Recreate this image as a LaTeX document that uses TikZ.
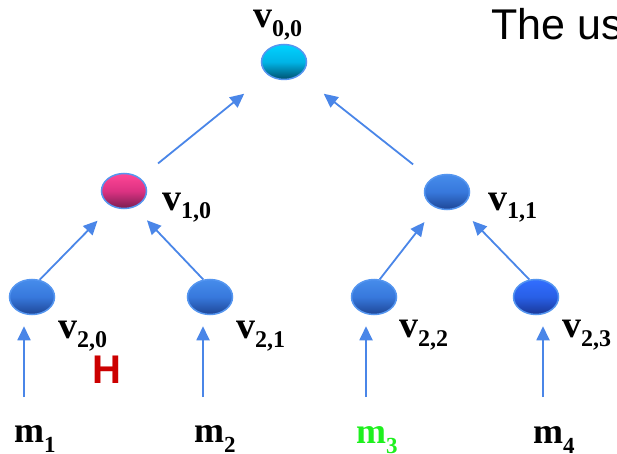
\documentclass[tikz,border=0pt]{standalone}
\usepackage{fontspec}
\setmainfont{Liberation Serif}
\newfontfamily\arialf{Liberation Sans}
\usetikzlibrary{arrows.meta,shapes.geometric}
\definecolor{arrowblue}{RGB}{74,134,232}
\definecolor{nodeborder}{RGB}{85,150,240}
\definecolor{hred}{RGB}{204,0,0}
\definecolor{mgreen}{RGB}{30,240,30}
\newcommand\vlabtxt[2]{#1\raisebox{-9pt}{\fontsize{24}{24}\selectfont #2}}
\newcommand\mlabtxt[2]{#1\raisebox{-10pt}{\fontsize{23}{23}\selectfont #2}}
\begin{document}
\begin{tikzpicture}[x=1pt,y=-1pt,
  vnode/.style={ellipse, draw=nodeborder, line width=1.5pt, minimum width=45pt, minimum height=35pt, inner sep=0pt},
  cyanshade/.style={top color={rgb,255:red,0;green,210;blue,255}, bottom color={rgb,255:red,0;green,80;blue,110}, middle color={rgb,255:red,0;green,180;blue,230}},
  pinkshade/.style={top color={rgb,255:red,255;green,70;blue,150}, bottom color={rgb,255:red,120;green,30;blue,80}, middle color={rgb,255:red,220;green,50;blue,130}},
  blueshade/.style={top color={rgb,255:red,70;green,140;blue,235}, bottom color={rgb,255:red,30;green,70;blue,150}, middle color={rgb,255:red,55;green,120;blue,220}},
  brightshade/.style={top color={rgb,255:red,50;green,110;blue,255}, bottom color={rgb,255:red,25;green,55;blue,150}, middle color={rgb,255:red,40;green,95;blue,230}},
  vlab/.style={anchor=base west, inner sep=0pt, font=\fontsize{38}{40}\selectfont\bfseries},
  mlab/.style={anchor=base west, inner sep=0pt, font=\fontsize{36}{38}\selectfont\bfseries},
  arr/.style={draw=arrowblue, line width=1.8pt, -{Triangle[length=14pt,width=13pt]}}
]
\clip (0,0) rectangle (617,454);
\fill[white] (0,0) rectangle (617,454);

% nodes
\node[vnode, cyanshade] (v00) at (284,62) {};
\node[vnode, pinkshade] (v10) at (124,191) {};
\node[vnode, blueshade] (v11) at (447,192) {};
\node[vnode, blueshade] (v20) at (32,297) {};
\node[vnode, blueshade] (v21) at (210,297) {};
\node[vnode, blueshade] (v22) at (374,297) {};
\node[vnode, brightshade] (v23) at (536,297) {};

% labels
\node[vlab] (l00) at (253,28) {\vlabtxt{v}{0,0}};
\node[vlab] (l10) at (162,210) {\vlabtxt{v}{1,0}};
\node[vlab] (l11) at (488,210) {\vlabtxt{v}{1,1}};
\node[vlab] (l20) at (58,338) {\vlabtxt{v}{2,0}};
\node[vlab] (l21) at (236,338) {\vlabtxt{v}{2,1}};
\node[vlab] (l22) at (399,337) {\vlabtxt{v}{2,2}};
\node[vlab] (l23) at (562,337) {\vlabtxt{v}{2,3}};

\node[mlab] (m1) at (14,442) {\mlabtxt{m}{1}};
\node[mlab] (m2) at (194,442) {\mlabtxt{m}{2}};
\node[mlab, text=mgreen] (m3) at (356,443) {\mlabtxt{m}{3}};
\node[mlab] (m4) at (533,443) {\mlabtxt{m}{4}};

\node[anchor=base west, inner sep=0pt, text=hred, font=\arialf\bfseries\fontsize{40}{40}\selectfont] (h) at (92,383) {H};
\node[anchor=base west, inner sep=0pt, font=\arialf\fontsize{43}{43}\selectfont] (title) at (491,40) {The us};

% tree arrows
\draw[arr, shorten <=23pt, shorten >=30pt] (v10.39.5) -- (v00.218.5);
\draw[arr, shorten <=23pt, shorten >=30pt] (v11.140) -- (v00.321);
\draw[arr, shorten >=20pt] (v20.66) -- (v10.231);
\draw[arr, shorten >=18pt] (v21.111) -- (v10.303);
\draw[arr, shorten >=18pt] (v22.72) -- (v11.234);
\draw[arr, shorten >=19pt] (v23.111) -- (v11.309);

% input arrows
\coordinate (a1) at (24,397);
\coordinate (a2) at (203,397);
\coordinate (a3) at (366,397);
\coordinate (a4) at (543,397);
\draw[arr, shorten >=11pt] (a1) -- (a1 |- v20.south);
\draw[arr, shorten >=11pt] (a2) -- (a2 |- v21.south);
\draw[arr, shorten >=11pt] (a3) -- (a3 |- v22.south);
\draw[arr, shorten >=11pt] (a4) -- (a4 |- v23.south);
\end{tikzpicture}
\end{document}
